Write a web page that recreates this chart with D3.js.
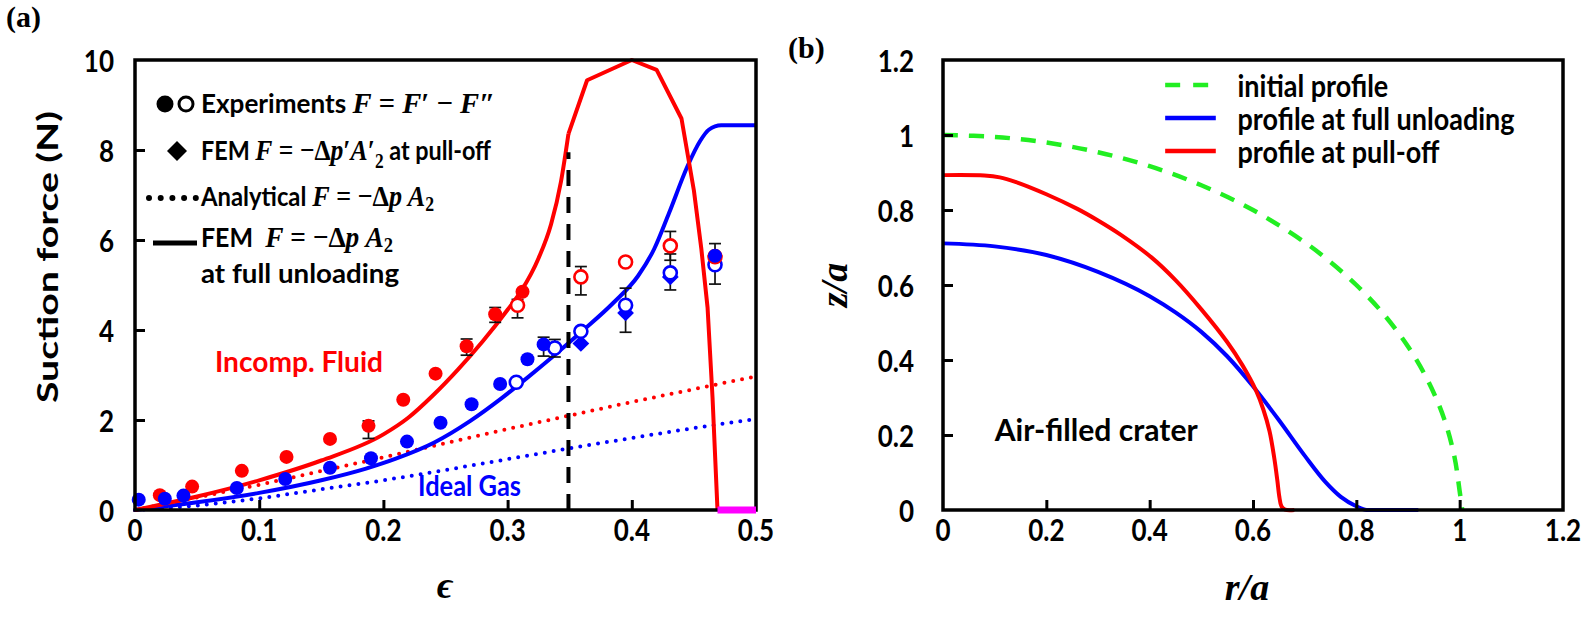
<!DOCTYPE html>
<html><head><meta charset="utf-8">
<script src="https://cdn.jsdelivr.net/npm/d3@7"></script>
<style>body{margin:0;background:#fff}svg{display:block}</style>
</head><body><svg id="c" width="1585" height="618"></svg>
<script>
// ---------- Panel (a) data ----------
const epsTicks = [0, 0.1, 0.2, 0.3, 0.4, 0.5];
const forceTicks = [0, 2, 4, 6, 8, 10];
const redFEMrise = [[0,0],[0.05,0.3],[0.1,0.66],[0.15,1.1],[0.2,1.68],[0.22,2.05],[0.24,2.55],[0.26,3.12],[0.28,3.75],[0.3,4.45],[0.311,4.87],[0.325,5.6],[0.335,6.35],[0.343,7.3],[0.349,8.36]];
const redFEMpeak = [[0.349,8.36],[0.364,9.55],[0.4,10.0],[0.42,9.78],[0.44,8.7],[0.45,7.1],[0.456,5.8],[0.461,4.5],[0.465,2.5],[0.469,0]];
const blueFEM = [[0,0],[0.05,0.17],[0.1,0.38],[0.15,0.66],[0.186,0.92],[0.21,1.14],[0.241,1.5],[0.27,1.98],[0.295,2.48],[0.315,2.92],[0.336,3.4],[0.359,3.95],[0.385,4.6],[0.405,5.2],[0.418,5.8],[0.43,6.6],[0.445,7.65],[0.455,8.2],[0.462,8.45],[0.472,8.55],[0.5,8.55]];
const redAnalytical = [[0,0],[0.1,0.56],[0.2,1.17],[0.3,1.8],[0.4,2.4],[0.5,2.97]];
const blueAnalytical = [[0,0],[0.05,0.1],[0.1,0.26],[0.15,0.46],[0.2,0.66],[0.25,0.89],[0.3,1.13],[0.35,1.37],[0.4,1.6],[0.45,1.82],[0.5,2.02]];
const pullOffZero = [[0.469,0],[0.5,0]];
const dashedMark = [[0.349,0],[0.349,7.95]];
const redFilled = [[0.020,0.33],[0.046,0.52],[0.086,0.87],[0.122,1.18],[0.157,1.58],[0.188,1.87],[0.216,2.45],[0.242,3.03],[0.267,3.64],[0.290,4.35],[0.312,4.85]];
const blueFilled = [[0.003,0.23],[0.024,0.25],[0.039,0.32],[0.082,0.49],[0.121,0.69],[0.157,0.94],[0.19,1.15],[0.219,1.52],[0.246,1.94],[0.271,2.35],[0.294,2.8],[0.316,3.35],[0.329,3.68],[0.467,5.65]];
const redOpen = [[0.308,4.55],[0.359,5.18],[0.395,5.51],[0.431,5.87],[0.467,5.63]];
const blueOpen = [[0.307,2.84],[0.338,3.6],[0.359,3.97],[0.395,4.55],[0.431,5.27],[0.467,5.45]];
const blueDiamond = [[0.359,3.7],[0.395,4.38],[0.431,5.18]];
const errorBars = [[0.188,1.59,1.98],[0.267,3.44,3.8],[0.290,4.17,4.5],[0.308,4.27,4.68],[0.329,3.42,3.84],[0.338,3.4,3.79],[0.359,4.78,5.41],[0.395,3.95,4.93],[0.431,5.55,6.19],[0.431,4.89,5.69],[0.467,5.02,5.92]];

// ---------- Panel (b) data ----------
const rTicks = [0, 0.2, 0.4, 0.6, 0.8, 1, 1.2];
const zTicks = [0, 0.2, 0.4, 0.6, 0.8, 1, 1.2];
const initialProfile = [[0,1.0],[0.1,0.995],[0.2,0.98],[0.3,0.954],[0.4,0.917],[0.5,0.866],[0.6,0.8],[0.7,0.714],[0.75,0.661],[0.8,0.6],[0.85,0.527],[0.9,0.436],[0.94,0.341],[0.97,0.243],[0.99,0.141],[1.0,0.05],[1.005,0]];
const unloadProfile = [[0,0.711],[0.1,0.703],[0.2,0.68],[0.3,0.635],[0.4,0.57],[0.45,0.527],[0.5,0.475],[0.55,0.41],[0.6,0.33],[0.65,0.24],[0.7,0.145],[0.74,0.075],[0.77,0.035],[0.8,0.01],[0.82,0],[0.92,0]];
const pulloffProfile = [[0,0.893],[0.08,0.892],[0.11,0.887],[0.14,0.875],[0.2,0.842],[0.26,0.803],[0.3,0.772],[0.345,0.733],[0.404,0.673],[0.45,0.613],[0.5,0.535],[0.55,0.448],[0.58,0.385],[0.606,0.318],[0.62,0.268],[0.632,0.21],[0.641,0.14],[0.647,0.08],[0.651,0.035],[0.655,0.01],[0.662,0.001],[0.68,0]];

const RED = "#ff0000", BLUE = "#0000ff", GREEN = "#22ee22", MAG = "#ff00ff";
const SANS = "Lato, 'Open Sans', sans-serif";
const SERIF = "'Liberation Serif', 'DejaVu Serif', serif";

const svg = d3.select("#c");

function txt(g, x, y, s, o) {
  o = o || {};
  const t = g.append("text")
    .attr("transform", `translate(${x},${y})` + (o.rot ? ` rotate(${o.rot})` : "") + ` scale(${o.sx || 1},${o.sy || 1})`)
    .attr("text-anchor", o.anchor || "middle")
    .attr("dominant-baseline", o.base || "central")
    .style("font-family", o.family || SANS)
    .style("font-weight", o.weight || "bold")
    .style("font-style", o.style || "normal")
    .style("font-size", (o.size || 24) + "px")
    .attr("fill", o.fill || "#000")
    .text(s);
  if (o.len) t.attr("textLength", o.len).attr("lengthAdjust", "spacingAndGlyphs");
  return t;
}

function frameAndAxes(x, y, xt, yt, lab) {
  const g = svg.append("g");
  const ax = g.append("g").attr("transform", `translate(0,${y.range()[0]})`)
    .call(d3.axisBottom(x).tickValues(xt.slice(1, -1)).tickSize(-10).tickFormat(""));
  const ay = g.append("g").attr("transform", `translate(${x.range()[0]},0)`)
    .call(d3.axisLeft(y).tickValues(yt.slice(1, -1)).tickSize(-10).tickFormat(""));
  [ax, ay].forEach(a => { a.select(".domain").remove(); a.selectAll("line").attr("stroke", "#000").attr("stroke-width", 3); });
  g.append("rect").attr("x", x.range()[0]).attr("y", y.range()[1])
    .attr("width", x.range()[1] - x.range()[0]).attr("height", y.range()[0] - y.range()[1])
    .attr("fill", "none").attr("stroke", "#000").attr("stroke-width", 3.5);
  xt.forEach(v => txt(g, x(v), lab.xy, String(v), { size: lab.size, sx: lab.sx, sy: lab.sy }));
  yt.forEach(v => txt(g, lab.yx, y(v), String(v), { size: lab.size, sx: lab.sx, sy: lab.sy, anchor: "end" }));
  return g;
}

// ================= PANEL A =================
const xA = d3.scaleLinear().domain([0, 0.5]).range([135, 756]);
const yA = d3.scaleLinear().domain([0, 10]).range([510, 60]);
const lineA = d3.line().x(d => xA(d[0])).y(d => yA(d[1]));
const smoothA = d3.line().x(d => xA(d[0])).y(d => yA(d[1])).curve(d3.curveMonotoneX);
const gA = svg.append("g");

gA.append("path").attr("d", lineA(redAnalytical)).attr("fill", "none").attr("stroke", RED)
  .attr("stroke-width", 4).attr("stroke-linecap", "round").attr("stroke-dasharray", "0,9");
gA.append("path").attr("d", smoothA(blueAnalytical)).attr("fill", "none").attr("stroke", BLUE)
  .attr("stroke-width", 4).attr("stroke-linecap", "round").attr("stroke-dasharray", "0,9");
gA.append("path").attr("d", smoothA(blueFEM)).attr("fill", "none").attr("stroke", BLUE).attr("stroke-width", 4);
gA.append("path").attr("d", smoothA(redFEMrise)).attr("fill", "none").attr("stroke", RED).attr("stroke-width", 4);
gA.append("path").attr("d", lineA(redFEMpeak)).attr("fill", "none").attr("stroke", RED)
  .attr("stroke-width", 4).attr("stroke-linejoin", "round");
gA.append("path").attr("d", lineA(dashedMark)).attr("fill", "none").attr("stroke", "#000")
  .attr("stroke-width", 4).attr("stroke-dasharray", "16,11");

// error bars
const eb = gA.append("g").attr("stroke", "#111").attr("stroke-width", 1.7);
errorBars.forEach(([e, lo, hi]) => {
  eb.append("line").attr("x1", xA(e)).attr("x2", xA(e)).attr("y1", yA(lo)).attr("y2", yA(hi));
  [lo, hi].forEach(v => eb.append("line").attr("x1", xA(e) - 6).attr("x2", xA(e) + 6).attr("y1", yA(v)).attr("y2", yA(v)));
});

gA.selectAll(".bd").data(blueDiamond).join("path")
  .attr("d", d3.symbol().type(d3.symbolSquare).size(140)()).attr("fill", BLUE)
  .attr("transform", d => `translate(${xA(d[0])},${yA(d[1])}) rotate(45)`);
gA.selectAll(".bo").data(blueOpen).join("circle").attr("cx", d => xA(d[0])).attr("cy", d => yA(d[1]))
  .attr("r", 6.5).attr("fill", "#fff").attr("stroke", BLUE).attr("stroke-width", 2.6);
gA.selectAll(".ro").data(redOpen).join("circle").attr("cx", d => xA(d[0])).attr("cy", d => yA(d[1]))
  .attr("r", 6.5).attr("fill", "#fff").attr("stroke", RED).attr("stroke-width", 2.6);
gA.selectAll(".rf").data(redFilled).join("circle").attr("cx", d => xA(d[0])).attr("cy", d => yA(d[1]))
  .attr("r", 7).attr("fill", RED);
gA.selectAll(".bf").data(blueFilled).join("circle").attr("cx", d => xA(d[0])).attr("cy", d => yA(d[1]))
  .attr("r", 7).attr("fill", BLUE);

frameAndAxes(xA, yA, epsTicks, forceTicks, { xy: 529, yx: 114, size: 26, sy: 1.15 });
svg.append("path").attr("d", lineA(pullOffZero)).attr("stroke", MAG).attr("stroke-width", 7).attr("fill", "none");

// annotations
txt(svg, 215, 361, "Incomp. Fluid", { anchor: "start", size: 26, fill: RED, len: 168, sy: 1.12 });
txt(svg, 418, 485, "Ideal Gas", { anchor: "start", size: 26, fill: BLUE, len: 103, sy: 1.12 });
txt(svg, 46, 257, "Suction force (N)", { rot: -90, size: 29, len: 292 });
txt(svg, 445, 585, "\u03f5", { family: SERIF, style: "italic", weight: "bold", size: 38 });
txt(svg, 6, 16, "(a)", { anchor: "start", family: SERIF, size: 30 });

// legend A
const lg = svg.append("g");
lg.append("circle").attr("cx", 165).attr("cy", 104).attr("r", 8.5).attr("fill", "#000");
lg.append("circle").attr("cx", 186).attr("cy", 104).attr("r", 7).attr("fill", "#fff").attr("stroke", "#000").attr("stroke-width", 3);
lg.append("path").attr("d", d3.symbol().type(d3.symbolSquare).size(200)()).attr("transform", "translate(177,151) rotate(45)");
lg.append("line").attr("x1", 149).attr("x2", 196).attr("y1", 198).attr("y2", 198).attr("stroke", "#000")
  .attr("stroke-width", 6).attr("stroke-linecap", "round").attr("stroke-dasharray", "0,11.7");
lg.append("line").attr("x1", 153).attr("x2", 197).attr("y1", 243).attr("y2", 243).attr("stroke", "#000").attr("stroke-width", 5);

function mathRow(x, y, target, parts) {
  const t = lg.append("text").attr("transform", `translate(${x},${y}) scale(1,1.08)`).attr("dominant-baseline", "alphabetic");
  parts.forEach(p => {
    const s = t.append("tspan").text(p.t);
    if (p.m) s.style("font-family", SERIF).style("font-weight", "bold").style("font-style", p.i ? "italic" : "normal").style("font-size", (p.sz || 28) + "px");
    else s.style("font-family", SANS).style("font-weight", "bold").style("font-size", (p.sz || 25.5) + "px");
    if (p.dy) s.attr("dy", p.dy);
    if (p.dx) s.attr("dx", p.dx);
  });
  const w = t.node().getBBox().width;
  if (w > 0) t.attr("transform", `translate(${x},${y}) scale(${target / w},1.08)`);
  return t;
}
mathRow(201, 113, 294, [{ t: "Experiments " }, { t: "F", m: 1, i: 1 }, { t: " = ", m: 1 }, { t: "F", m: 1, i: 1 }, { t: "\u2032", m: 1 }, { t: " \u2212 ", m: 1 }, { t: "F", m: 1, i: 1 }, { t: "\u2033", m: 1 }]);
mathRow(201, 160, 290, [{ t: "FEM " }, { t: "F", m: 1, i: 1 }, { t: " = \u2212\u0394", m: 1 }, { t: "p", m: 1, i: 1 }, { t: "\u2032", m: 1 }, { t: "A", m: 1, i: 1 }, { t: "\u2032", m: 1 }, { t: "2", m: 1, sz: 19, dy: 7 }, { t: " at pull-off", dy: -7 }]);
mathRow(201, 206, 234, [{ t: "Analytical " }, { t: "F", m: 1, i: 1 }, { t: " = \u2212\u0394", m: 1 }, { t: "p", m: 1, i: 1 }, { t: " " }, { t: "A", m: 1, i: 1 }, { t: "2", m: 1, sz: 19, dy: 5 }]);
mathRow(201, 247, 192, [{ t: "FEM\u00a0\u00a0" }, { t: "F", m: 1, i: 1 }, { t: " = \u2212\u0394", m: 1 }, { t: "p", m: 1, i: 1 }, { t: " " }, { t: "A", m: 1, i: 1 }, { t: "2", m: 1, sz: 19, dy: 5 }]);
mathRow(201, 283, 198, [{ t: "at full unloading" }]);

// ================= PANEL B =================
const xB = d3.scaleLinear().domain([0, 1.2]).range([943, 1563]);
const yB = d3.scaleLinear().domain([0, 1.2]).range([510, 60]);
const lineB = d3.line().x(d => xB(d[0])).y(d => yB(d[1])).curve(d3.curveMonotoneX);
const catB = d3.line().x(d => xB(d[0])).y(d => yB(d[1])).curve(d3.curveCatmullRom);
const gB = svg.append("g");
frameAndAxes(xB, yB, rTicks, zTicks, { xy: 529, yx: 914, size: 26, sy: 1.2 });
gB.append("path").attr("d", catB(initialProfile))
  .attr("fill", "none").attr("stroke", GREEN).attr("stroke-width", 4.5).attr("stroke-dasharray", "15,11");
gB.append("path").attr("d", lineB(unloadProfile)).attr("fill", "none").attr("stroke", BLUE).attr("stroke-width", 4);
gB.append("path").attr("d", catB(pulloffProfile)).attr("fill", "none").attr("stroke", RED).attr("stroke-width", 4);

// legend B
const legB = [["initial profile", GREEN, true, 85], ["profile at full unloading", BLUE, false, 118], ["profile at pull-off", RED, false, 151]];
legB.forEach(([name, col, dash, y]) => {
  const l = gB.append("line").attr("x1", xB(0.43)).attr("x2", xB(0.528)).attr("y1", y).attr("y2", y).attr("stroke", col).attr("stroke-width", 4.5);
  if (dash) l.attr("stroke-dasharray", "15,13");
  txt(gB, xB(0.57), y, name, { anchor: "start", size: 27, sy: 1.12 });
});
txt(gB, xB(0.1), 429, "Air-filled crater", { anchor: "start", size: 27, len: 203, sy: 1.12 });
txt(svg, 1247, 587, "r/a", { family: SERIF, style: "italic", size: 38 });
txt(svg, 834, 285, "z/a", { family: SERIF, style: "italic", size: 38, rot: -90 });
txt(svg, 788, 47, "(b)", { anchor: "start", family: SERIF, size: 30 });
</script></body></html>
